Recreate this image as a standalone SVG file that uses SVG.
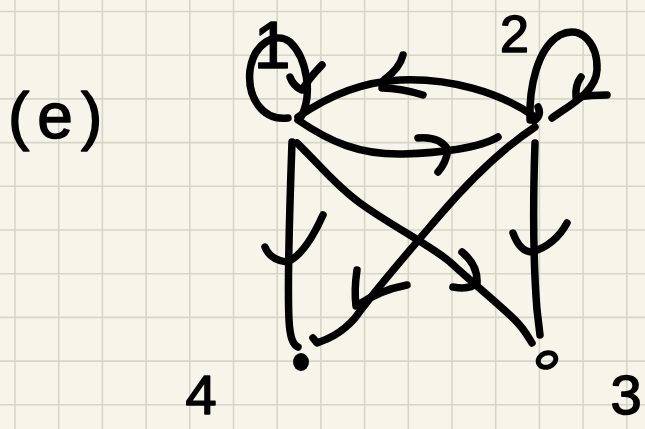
<svg xmlns="http://www.w3.org/2000/svg" width="645" height="429" viewBox="0 0 645 429">
<style>
.g{stroke:#d6d6c8;stroke-width:1.6}
.e{fill:none;stroke:#000;stroke-width:7.5;stroke-linecap:round;stroke-linejoin:round}
.t{font-family:"Liberation Sans",Arial,sans-serif;fill:#000;stroke:#000;stroke-width:1.5;stroke-linejoin:round}
</style>
<rect width="645" height="429" fill="#f7f5ea"/>
<g id="grid">
<path class="g" d="M15,0V429M58.7,0V429M102.4,0V429M146.1,0V429M189.8,0V429M233.5,0V429M277.2,0V429M320.9,0V429M364.6,0V429M408.3,0V429M452,0V429M495.7,0V429M539.4,0V429M583.1,0V429M626.8,0V429"/>
<path class="g" d="M0,11.5H645M0,55.2H645M0,98.9H645M0,142.6H645M0,186.3H645M0,230H645M0,273.7H645M0,317.4H645M0,361.1H645M0,404.8H645"/>
</g>
<text class="t" x="8" y="138" font-size="64" letter-spacing="8">(e)</text>
<g id="connectors">
<path class="e" d="M301,117 C313,95 307,58 290,42 C276,31 254,43 250,70 C247,97 262,121 288,118"/>
<path class="e" d="M290,77 Q293,86 302,90 Q310,77 322,65"/>
<path class="e" d="M535,117 C500,92 450,78 400,80 C360,82 325,98 298,117"/>
<path class="e" d="M403,55 Q400,68 384,80 M382,88 Q400,88 423,95"/>
<path class="e" d="M298,120 C330,142 360,155 403,154 C440,153 480,148 498,137"/>
<path class="e" d="M418,138 Q440,136 448,150 Q446,163 438,172"/>
<path class="e" d="M530,120 C529,88 537,48 560,35 C582,24 598,45 597,70 C596,92 570,105 552,118"/>
<path class="e" d="M538,107 Q542,115 534,121"/>
<path class="e" d="M581,77 Q575,85 576,97 Q592,95 607,95"/>
<path class="e" d="M292,142 C290,200 287,280 289,320 C290,338 293,345 298,347"/>
<path class="e" d="M265,247 Q270,260 287,262 Q305,255 323,215"/>
<path class="e" d="M535,127 C500,150 470,180 440,215 C410,250 375,290 355,318 C340,335 325,340 317,343 L313,338"/>
<path class="e" d="M357,270 Q354,290 356,306 Q380,290 407,285"/>
<path class="e" d="M297,143 C320,165 335,185 360,203 C390,225 430,245 450,262 C475,285 500,305 515,320 C525,330 530,340 532,343"/>
<path class="e" d="M462,252 Q478,265 477,283 Q470,290 453,287"/>
<path class="e" d="M535,143 C533,200 533,260 537,310 L540,335"/>
<path class="e" d="M513,233 Q520,252 532,252 Q555,245 567,223"/>
</g>
<g id="node1">
<text class="t" x="272" y="68" font-size="66" text-anchor="middle">1</text>
</g>
<g id="node2">
<text class="t" x="500" y="52" font-size="52">2</text>
</g>
<g id="node4">
<ellipse cx="301" cy="362" rx="8" ry="9" fill="#000"/>
<text class="t" x="201" y="414" font-size="56" text-anchor="middle">4</text>
</g>
<g id="node3">
<ellipse cx="547" cy="360" rx="9" ry="7" fill="none" stroke="#000" stroke-width="5" transform="rotate(-20 547 360)"/>
<text class="t" x="626" y="414" font-size="56" text-anchor="middle">3</text>
</g>
</svg>
